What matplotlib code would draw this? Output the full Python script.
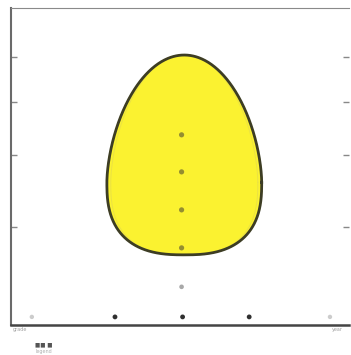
import matplotlib
matplotlib.use("Agg")
import matplotlib.pyplot as pl
import numpy as np

# egg-shaped region (data units)
eggCenterX = 5.13
eggWidestY = 4.5
eggTopY = 8.52
eggBottomY = 2.21
eggHalfWidth = 2.29

# points on the centre line inside / below the region
innerDotsX = [5.05, 5.05, 5.05, 5.05]
innerDotsY = [6.0, 4.83, 3.63, 2.43]
lowerDotX = [5.05]
lowerDotY = [1.2]

# points along the bottom axis
axisDotsX = [3.08, 5.08, 7.05]
axisDotsY = [0.25, 0.25, 0.25]
faintDotsX = [0.62, 9.44]
faintDotsY = [0.25, 0.25]

yTicks = [3.1, 5.36, 7.03, 8.45]

def eggOutline(n=400):
	heightUp = eggTopY - eggWidestY
	heightDown = eggWidestY - eggBottomY
	# rounded-pointed top
	tUp = np.linspace(0, np.pi, n)
	uUp = np.sin(tUp)
	yUp = eggWidestY + heightUp * uUp
	wUp = eggHalfWidth * np.clip(1 - uUp ** 1.7, 0, 1) ** 0.5
	xUp = eggCenterX + np.where(tUp < np.pi / 2, wUp, -wUp)
	# flattened base
	tDown = np.linspace(np.pi, 2 * np.pi, n)
	uDown = np.abs(np.sin(tDown))
	yDown = eggWidestY - heightDown * uDown
	wDown = eggHalfWidth * np.clip(1 - uDown ** 2.6, 0, 1) ** (1 / 2.6)
	xDown = eggCenterX + np.where(tDown < 1.5 * np.pi, -wDown, wDown)
	return np.concatenate([xUp, xDown]), np.concatenate([yUp, yDown])

figure = pl.figure(figsize=(3.51, 3.55), dpi=100)
axes = figure.add_axes([0.031, 0.085, 0.963, 0.892])
axes.set_xlim(0, 10)
axes.set_ylim(0, 10)

eggX, eggY = eggOutline()
axes.fill(eggX, eggY, color="#fbf230", zorder=1)
axes.plot(eggX, eggY, color="#3d3d24", linewidth=2, zorder=3)
# faint inner edge of the fill
axes.plot(eggCenterX + (eggX - eggCenterX) * 0.95, eggY, color="#ebe244",
	linewidth=0.7, zorder=2)

axes.scatter(innerDotsX, innerDotsY, s=14, marker="o", color="#948e30",
	edgecolors="none", zorder=4)
axes.scatter(lowerDotX, lowerDotY, s=11, color="#a8a8a8", edgecolors="none", zorder=4)
axes.scatter(axisDotsX, axisDotsY, s=12, color="#303030", edgecolors="none", zorder=4)
axes.scatter(faintDotsX, faintDotsY, s=10, color="#cccccc", edgecolors="none", zorder=4)

axes.set_xticks([])
axes.set_yticks(yTicks)
axes.set_yticklabels([])
axes.tick_params(axis="y", direction="in", length=4, width=1, color="#888888",
	right=True)
axes.spines["left"].set_color("#6a6a6a")
axes.spines["left"].set_linewidth(1.5)
axes.spines["bottom"].set_color("#444444")
axes.spines["bottom"].set_linewidth(1.8)
axes.spines["top"].set_color("#8a8a8a")
axes.spines["right"].set_visible(False)

figure.text(0.035, 0.068, "grade", fontsize=3.5, color="#a0a0a0")
figure.text(0.945, 0.068, "year", fontsize=3.5, color="#a0a0a0")
figure.text(0.10, 0.025, "■■ ■", fontsize=4, color="#555555")
figure.text(0.10, 0.005, "legend", fontsize=3.5, color="#b0b0b0")

figure.savefig("out.png", dpi=100)
